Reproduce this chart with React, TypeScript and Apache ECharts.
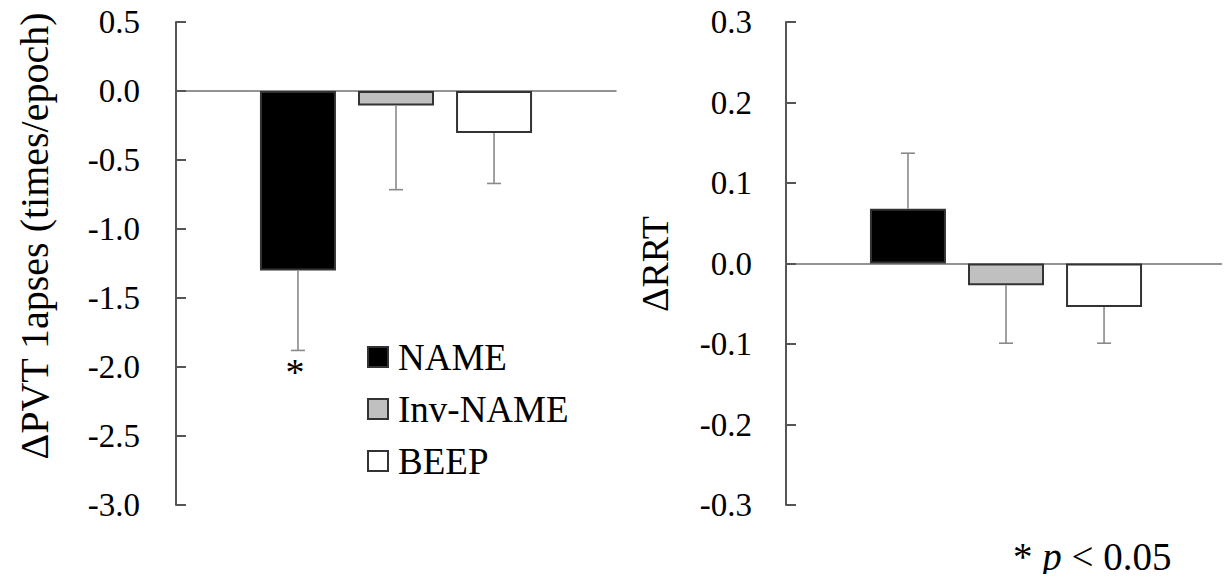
import React, { useEffect, useRef } from "react";
import * as echarts from "echarts";

const groups = ["NAME", "Inv-NAME", "BEEP"];
const barColors = ["#000000", "#c0c0c0", "#ffffff"];

const pvtValues = [-1.3, -0.105, -0.305];
const pvtErrors = [0.58, 0.61, 0.365];
const pvtSig = [true, false, false];
const pvtTicks = { min: -3, max: 0.5, interval: 0.5 };

const rrtValues = [0.068, -0.027, -0.054];
const rrtErrors = [0.069, 0.072, 0.045];
const rrtSig = [false, false, false];
const rrtTicks = { min: -0.3, max: 0.3, interval: 0.1 };

const FONT = "Liberation Serif";
const BAR_W = 76;
const BAR_GAP = 0.29;

function errorRender(params: any, api: any) {
  const k = api.value(3);
  const v = api.value(1);
  const e = api.value(2);
  const sig = api.value(4);
  const end = v + (v >= 0 ? e : -e);
  const p0 = api.coord([0, v]);
  const p1 = api.coord([0, end]);
  const dx = (k - 1) * BAR_W * (1 + BAR_GAP);
  const x = p0[0] + dx;
  const style = { stroke: "#8a8a8a", lineWidth: 1.6 };
  const children: any[] = [
    { type: "line", shape: { x1: x, y1: p0[1], x2: x, y2: p1[1] }, style },
    { type: "line", shape: { x1: x - 7, y1: p1[1], x2: x + 7, y2: p1[1] }, style },
  ];
  if (sig) {
    children.push({
      type: "text",
      style: {
        text: "*",
        x: x - 3,
        y: p1[1] + 22,
        align: "center",
        verticalAlign: "middle",
        fontSize: 38,
        fontFamily: FONT,
        fill: "#000",
      },
    });
  }
  return { type: "group", children };
}

function panelSeries(values: number[], errors: number[], sig: boolean[], gi: number) {
  const bars = groups.map((g, i) => ({
    name: g,
    type: "bar",
    xAxisIndex: gi,
    yAxisIndex: gi,
    barWidth: BAR_W,
    barGap: BAR_GAP * 100 + "%",
    data: [values[i]],
    itemStyle: {
      color: barColors[i],
      borderColor: "#333",
      borderWidth: 2,
    },
    z: 2,
  }));
  const err = {
    type: "custom",
    xAxisIndex: gi,
    yAxisIndex: gi,
    renderItem: errorRender,
    encode: { x: 0, y: 1 },
    data: values.map((v, i) => [0, v, errors[i], i, sig[i] ? 1 : 0]),
    z: 3,
    silent: true,
  };
  return [...bars, err];
}

function yAxis(gi: number, t: { min: number; max: number; interval: number }, margin: number) {
  return {
    type: "value",
    gridIndex: gi,
    min: t.min,
    max: t.max,
    interval: t.interval,
    splitLine: { show: false },
    axisLine: { show: true, lineStyle: { color: "#555", width: 2 } },
    axisTick: { show: true, inside: true, length: 10, lineStyle: { color: "#555", width: 2 } },
    axisLabel: {
      margin,
      fontSize: 33,
      fontFamily: FONT,
      color: "#000",
      formatter: (v: number) => v.toFixed(1),
    },
  };
}

function xAxis(gi: number) {
  return {
    type: "category",
    gridIndex: gi,
    data: ["group"],
    axisLine: { show: true, onZero: true, lineStyle: { color: "#707070", width: 1.6 } },
    axisTick: { show: false },
    axisLabel: { show: false },
    splitLine: { show: false },
  };
}

export default function App() {
  const ref = useRef<HTMLDivElement>(null);
  useEffect(() => {
    if (!ref.current) return;
    const chart = echarts.init(ref.current, null, { renderer: "svg" });
    chart.setOption({
      animation: false,
      backgroundColor: "#ffffff",
      textStyle: { fontFamily: FONT },
      grid: [
        { left: 176, top: 22, width: 440, height: 483 },
        { left: 786, top: 22, width: 440, height: 483 },
      ],
      xAxis: [xAxis(0), xAxis(1)],
      yAxis: [yAxis(0, pvtTicks, 36), yAxis(1, rrtTicks, 34)],
      legend: {
        data: groups,
        orient: "vertical",
        left: 367,
        top: 337,
        padding: 0,
        itemWidth: 20,
        itemHeight: 20,
        itemGap: 12,
        icon: "rect",
        selectedMode: false,
        textStyle: {
          fontSize: 37,
          lineHeight: 40,
          fontFamily: FONT,
          color: "#000",
          padding: [0, 0, 0, 5],
        },
      },
      series: [
        ...panelSeries(pvtValues, pvtErrors, pvtSig, 0),
        ...panelSeries(rrtValues, rrtErrors, rrtSig, 1),
      ],
      graphic: [
        {
          type: "text",
          x: 34,
          y: 236,
          rotation: Math.PI / 2,
          style: {
            text: "ΔPVT 1apses (times/epoch)",
            align: "center",
            verticalAlign: "middle",
            fontSize: 40,
            fontFamily: FONT,
            fill: "#000",
          },
        },
        {
          type: "text",
          x: 655,
          y: 264,
          rotation: Math.PI / 2,
          style: {
            text: "ΔRRT",
            align: "center",
            verticalAlign: "middle",
            fontSize: 38,
            fontFamily: FONT,
            fill: "#000",
          },
        },
        {
          type: "text",
          x: 1013,
          y: 556,
          style: {
            text: "{n|*} {i|p} {n|< 0.05}",
            verticalAlign: "middle",
            fontFamily: FONT,
            fontSize: 39,
            fill: "#000",
            rich: {
              n: { fontSize: 39, fontFamily: FONT, fill: "#000" },
              i: { fontSize: 39, fontFamily: FONT, fontStyle: "italic", fill: "#000" },
            },
          },
        },
      ],
    });
    return () => chart.dispose();
  }, []);
  return <div ref={ref} style={{ width: 1230, height: 582, margin: -8 }} />;
}
